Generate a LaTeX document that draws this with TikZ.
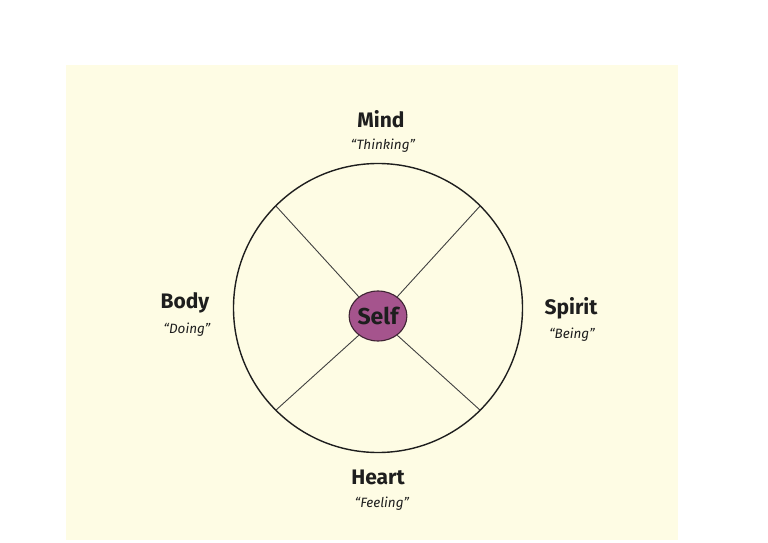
\documentclass[tikz,border=0pt]{standalone}
\usepackage{fontspec}
\setmainfont{Fira Sans}
\usetikzlibrary{shapes.geometric}
\definecolor{cream}{HTML}{FEFCE4}
\definecolor{selfpurple}{HTML}{A5548D}
\definecolor{selfedge}{HTML}{3E2433}
\definecolor{ink}{HTML}{1E1E1E}
\tikzset{
  lbl/.style={font=\fontsize{21}{23}\selectfont\bfseries, text=ink, inner sep=0pt},
  sub/.style={font=\fontsize{13.5}{15}\selectfont\itshape, text=ink, inner sep=0pt},
  spoke/.style={draw=ink!85, line width=0.9pt},
}
\begin{document}
\begin{tikzpicture}[x=1pt,y=-1pt]
\useasboundingbox (0,0) rectangle (768,543);
\fill[white] (0,0) rectangle (768,543);
\fill[cream] (66,65) rectangle (678,540);
\node[circle, draw=ink, line width=1.4pt, minimum size=289pt, inner sep=0pt] (outer) at (378,308) {};
\node[ellipse, draw=selfedge, line width=1.1pt, fill=selfpurple, minimum width=55pt, minimum height=50pt, inner sep=0pt, font=\fontsize{23}{25}\selectfont\bfseries, text=ink] (self) at (378,316) {Self};
\draw[spoke] (outer.45) -- (self.45);
\draw[spoke] (outer.135) -- (self.135);
\draw[spoke] (outer.225) -- (self.225);
\draw[spoke] (outer.315) -- (self.315);
\node[lbl] (mind) at (381,119) {Mind};
\node[sub] (thinking) at (383,146) {“Thinking”};
\node[lbl] (body) at (185,303) {Body};
\node[sub] (doing) at (187,330) {“Doing”};
\node[lbl] (spirit) at (571,308) {Spirit};
\node[sub] (being) at (572,335) {“Being”};
\node[lbl] (heart) at (378,477) {Heart};
\node[sub] (feeling) at (382,504) {“Feeling”};
\end{tikzpicture}
\end{document}
